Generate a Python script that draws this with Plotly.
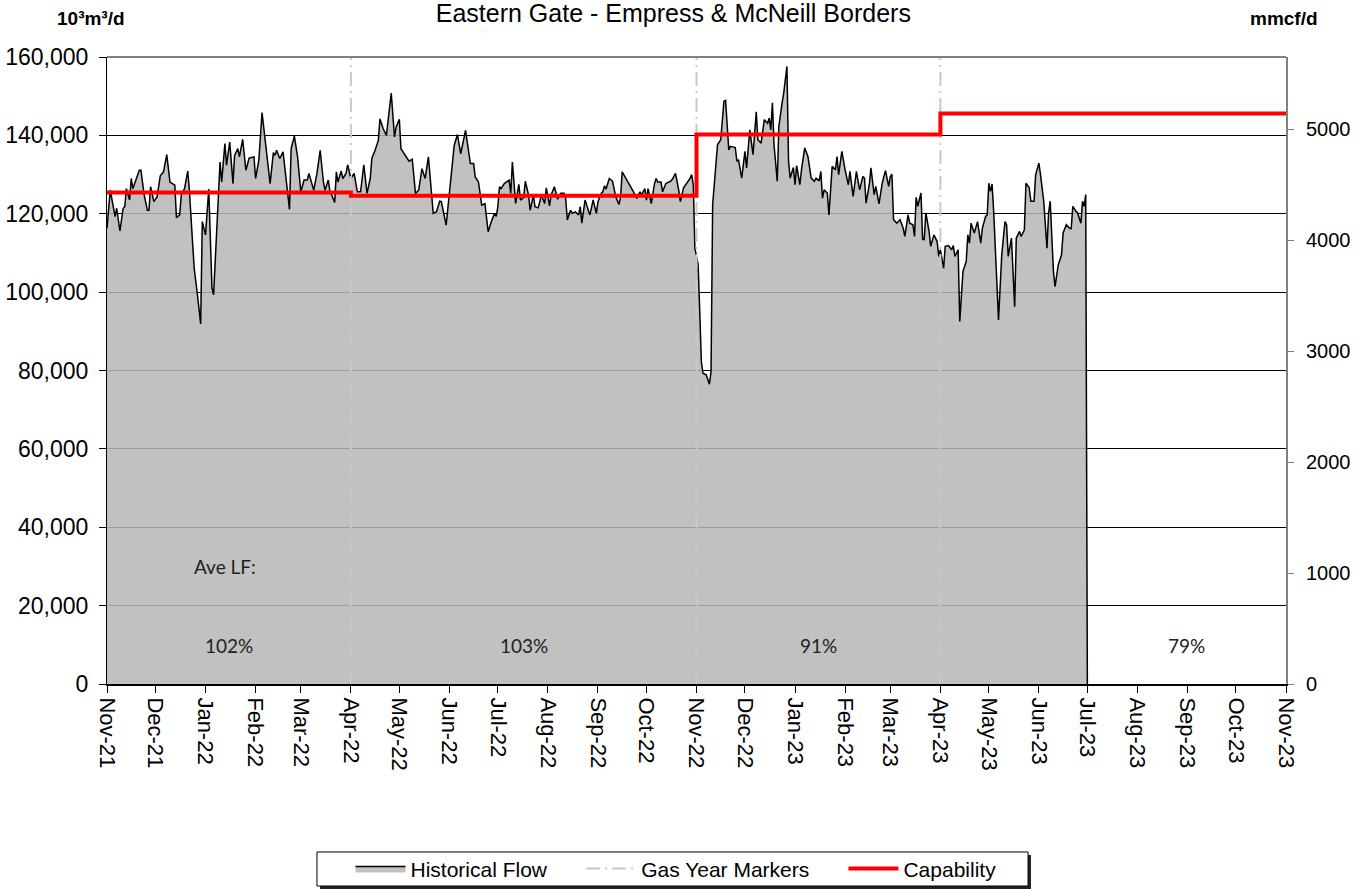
import plotly.graph_objects as go
import pandas as pd

# daily flow, 10^3 m3/d
flow_dates = [
    '2021-11-01', '2021-11-03', '2021-11-06', '2021-11-07', '2021-11-09', '2021-11-11', '2021-11-12', '2021-11-13',
    '2021-11-15', '2021-11-16', '2021-11-17', '2021-11-19', '2021-11-21', '2021-11-22', '2021-11-24', '2021-11-26',
    '2021-11-27', '2021-11-28', '2021-11-30',
    '2021-12-02', '2021-12-04', '2021-12-06', '2021-12-08', '2021-12-10', '2021-12-13', '2021-12-14', '2021-12-16',
    '2021-12-17', '2021-12-19', '2021-12-21', '2021-12-22', '2021-12-24', '2021-12-25', '2021-12-27', '2021-12-29',
    '2021-12-30',
    '2022-01-01', '2022-01-03', '2022-01-05', '2022-01-06', '2022-01-08', '2022-01-10', '2022-01-11', '2022-01-13',
    '2022-01-14', '2022-01-16', '2022-01-18', '2022-01-19', '2022-01-21', '2022-01-22', '2022-01-24', '2022-01-26',
    '2022-01-28', '2022-01-31',
    '2022-02-01', '2022-02-03', '2022-02-05', '2022-02-07', '2022-02-10', '2022-02-12', '2022-02-13', '2022-02-14',
    '2022-02-16', '2022-02-18', '2022-02-20', '2022-02-22', '2022-02-23', '2022-02-25', '2022-02-27',
    '2022-03-01', '2022-03-03', '2022-03-05', '2022-03-06', '2022-03-09', '2022-03-11', '2022-03-13', '2022-03-15',
    '2022-03-16', '2022-03-18', '2022-03-19', '2022-03-22', '2022-03-23', '2022-03-24', '2022-03-26', '2022-03-27',
    '2022-03-29', '2022-03-30',
    '2022-04-01', '2022-04-03', '2022-04-05', '2022-04-07', '2022-04-09', '2022-04-11', '2022-04-13', '2022-04-14',
    '2022-04-16', '2022-04-18', '2022-04-19', '2022-04-21', '2022-04-23', '2022-04-26', '2022-04-28', '2022-04-29',
    '2022-05-01', '2022-05-02', '2022-05-04', '2022-05-07', '2022-05-09', '2022-05-11', '2022-05-13', '2022-05-15',
    '2022-05-17', '2022-05-19', '2022-05-22', '2022-05-24', '2022-05-26', '2022-05-27', '2022-05-30',
    '2022-06-01', '2022-06-02', '2022-06-04', '2022-06-06', '2022-06-08', '2022-06-11', '2022-06-13', '2022-06-14',
    '2022-06-16', '2022-06-17', '2022-06-19', '2022-06-21', '2022-06-23', '2022-06-25', '2022-06-27', '2022-06-29',
    '2022-06-30',
    '2022-07-01', '2022-07-02', '2022-07-03', '2022-07-05', '2022-07-08', '2022-07-09', '2022-07-10', '2022-07-12',
    '2022-07-14', '2022-07-15', '2022-07-17', '2022-07-18', '2022-07-20', '2022-07-21', '2022-07-23', '2022-07-24',
    '2022-07-26', '2022-07-28', '2022-07-30', '2022-07-31',
    '2022-08-02', '2022-08-03', '2022-08-05', '2022-08-07', '2022-08-09', '2022-08-11', '2022-08-12', '2022-08-13',
    '2022-08-15', '2022-08-16', '2022-08-18', '2022-08-20', '2022-08-21', '2022-08-22', '2022-08-24', '2022-08-26',
    '2022-08-27', '2022-08-29', '2022-08-31',
    '2022-09-01', '2022-09-03', '2022-09-04', '2022-09-05', '2022-09-06', '2022-09-08', '2022-09-10', '2022-09-11',
    '2022-09-12', '2022-09-14', '2022-09-15', '2022-09-16', '2022-09-19', '2022-09-21', '2022-09-23', '2022-09-25',
    '2022-09-27', '2022-09-28', '2022-09-30',
    '2022-10-01', '2022-10-02', '2022-10-04', '2022-10-06', '2022-10-07', '2022-10-08', '2022-10-10', '2022-10-11',
    '2022-10-13', '2022-10-16', '2022-10-17', '2022-10-19', '2022-10-21', '2022-10-22', '2022-10-24', '2022-10-26',
    '2022-10-28', '2022-10-29', '2022-10-30', '2022-10-31',
    '2022-11-02', '2022-11-03', '2022-11-04', '2022-11-05', '2022-11-07', '2022-11-09', '2022-11-10', '2022-11-11',
    '2022-11-13', '2022-11-14', '2022-11-16', '2022-11-18', '2022-11-19', '2022-11-21', '2022-11-22', '2022-11-25',
    '2022-11-26', '2022-11-27', '2022-11-29',
    '2022-12-01', '2022-12-02', '2022-12-04', '2022-12-06', '2022-12-08', '2022-12-09', '2022-12-11', '2022-12-13',
    '2022-12-15', '2022-12-16', '2022-12-17', '2022-12-18', '2022-12-19', '2022-12-21', '2022-12-22', '2022-12-24',
    '2022-12-25', '2022-12-27', '2022-12-28', '2022-12-29', '2022-12-31',
    '2023-01-01', '2023-01-02', '2023-01-04', '2023-01-05', '2023-01-07', '2023-01-09', '2023-01-11', '2023-01-13',
    '2023-01-14', '2023-01-16', '2023-01-17', '2023-01-18', '2023-01-19', '2023-01-21', '2023-01-22', '2023-01-24',
    '2023-01-26', '2023-01-27', '2023-01-28', '2023-01-30',
    '2023-02-01', '2023-02-03', '2023-02-04', '2023-02-06', '2023-02-08', '2023-02-10', '2023-02-12', '2023-02-13',
    '2023-02-14', '2023-02-16', '2023-02-17', '2023-02-19', '2023-02-20', '2023-02-22', '2023-02-24', '2023-02-26',
    '2023-02-28',
    '2023-03-01', '2023-03-02', '2023-03-03', '2023-03-05', '2023-03-07', '2023-03-09', '2023-03-10', '2023-03-12',
    '2023-03-13', '2023-03-15', '2023-03-16', '2023-03-17', '2023-03-18', '2023-03-20', '2023-03-21', '2023-03-22',
    '2023-03-23', '2023-03-25', '2023-03-26', '2023-03-28', '2023-03-30', '2023-03-31',
    '2023-04-01', '2023-04-03', '2023-04-04', '2023-04-06', '2023-04-08', '2023-04-09', '2023-04-10', '2023-04-12',
    '2023-04-13', '2023-04-15', '2023-04-17', '2023-04-18', '2023-04-19', '2023-04-20', '2023-04-22', '2023-04-24',
    '2023-04-26', '2023-04-27', '2023-04-29', '2023-04-30',
    '2023-05-01', '2023-05-02', '2023-05-03', '2023-05-04', '2023-05-06', '2023-05-07', '2023-05-09', '2023-05-11',
    '2023-05-12', '2023-05-13', '2023-05-15', '2023-05-17', '2023-05-18', '2023-05-20', '2023-05-21', '2023-05-23',
    '2023-05-24', '2023-05-26', '2023-05-27', '2023-05-29', '2023-05-30',
    '2023-06-01', '2023-06-02', '2023-06-04', '2023-06-06', '2023-06-07', '2023-06-08', '2023-06-09', '2023-06-10',
    '2023-06-11', '2023-06-13', '2023-06-15', '2023-06-16', '2023-06-18', '2023-06-20', '2023-06-21', '2023-06-22',
    '2023-06-24', '2023-06-25', '2023-06-27', '2023-06-28', '2023-06-29', '2023-06-30',
    '2023-07-01',
]

flow_values = [
    116300, 126000, 119300, 121400, 115600, 121400, 121800, 126400,
    123500, 129000, 126400, 129000, 131100, 131100, 124800, 120900,
    120900, 126900, 123100,
    124300, 129700, 130700, 135100, 128100, 127300, 119000, 119700,
    124800, 126400, 130900, 126000, 112500, 106100, 99300, 91900,
    118000,
    114600, 126300, 101000, 99300, 118000, 133200, 128100, 137900,
    132400, 138300, 127700, 134900, 136600, 134500, 139000, 131100,
    134200, 134500,
    129000, 133600, 145800, 138300, 127700, 135600, 134900, 136200,
    134100, 135800, 129000, 121100, 136600, 139800, 134500,
    125600, 128600, 128600, 130300, 126000, 130300, 136200, 128100,
    126000, 128600, 125800, 122900, 130700, 128100, 130900, 129000,
    130300, 132500,
    129000, 130300, 125600, 125600, 132500, 125200, 129000, 134200,
    136200, 138700, 144200, 141700, 140000, 150800, 139600, 142100,
    144100, 136600, 135300, 133400, 133900, 125200, 126000, 131500,
    129000, 134500, 120100, 120500, 123200, 123100, 117100,
    125600, 128100, 137500, 140200, 135300, 141300, 135300, 132800,
    132800, 129400, 128100, 122200, 122600, 115400, 118000, 120100,
    119300,
    121800, 126900, 126400, 127700, 128600, 125200, 133200, 122600,
    127500, 123500, 124100, 128300, 124800, 120900, 124800, 121800,
    121500, 124800, 122600, 126600,
    122000, 124800, 126900, 123700, 125200, 125200, 123900, 118400,
    120900, 120100, 120500, 119700, 121800, 117600, 123500, 120900,
    119700, 123500, 120100,
    123100, 125200, 125600, 127100, 126300, 129000, 128300, 126000,
    124300, 122400, 124300, 130700, 128600, 127300, 125600, 123900,
    125600, 124800, 126400,
    123500, 126400, 122600, 127700, 129000, 128100, 128100, 125600,
    127700, 128300, 128800, 130300, 126000, 123100, 126600, 127700,
    129000, 130000, 127400, 111200,
    107000, 95100, 82300, 79300, 78900, 76500, 79700, 122300,
    131700, 137600, 138900, 148700, 148900, 136300, 137200, 136900,
    133400, 133800, 129100,
    135900, 131700, 141400, 135100, 146000, 138900, 138000, 144000,
    143100, 144400, 141400, 148300, 137600, 128300, 142300, 148300,
    150800, 157600, 133400, 129100, 131800,
    127400, 132300, 127400, 131200, 136800, 134600, 129100, 128300,
    129100, 128400, 130800, 124000, 126100, 125300, 119700, 132100,
    131200, 134600, 130000, 135900,
    131200, 127400, 130800, 124400, 130800, 126100, 129500, 129100,
    122700, 127400, 131700, 124900, 127000, 122500, 127800, 131000,
    127000,
    129500, 130100, 118500, 117600, 118500, 116300, 114200, 119700,
    117600, 117200, 114200, 124200, 121900, 125300, 113400, 113400,
    120200, 115500, 111700, 114600, 112900, 109100,
    110800, 106100, 111700, 111900, 110800, 111900, 109100, 110800,
    92500, 105300, 107800, 114600, 112500, 117600, 115100, 118000,
    112500, 116300, 119300, 119700,
    127800, 125700, 127600, 120600, 100200, 92900, 109500, 118000,
    117200, 109100, 113800, 96300, 113800, 115500, 114200, 115900,
    127800, 126600, 123200, 123200, 130000,
    132900, 130000, 123200, 111200, 120200, 123200, 113800, 105300,
    101400, 107000, 109500, 115100, 117200, 116300, 116200, 121900,
    120600, 120200, 117600, 123200, 121900, 124900,
    0,
]

# capability steps, 10^3 m3/d
cap_dates = ['2021-11-01', '2022-04-01', '2022-11-01', '2023-04-01', '2023-11-01']
cap_values = [125400, 124600, 140200, 145600, 145600]

gas_year_dates = ['2022-04-01', '2022-11-01', '2023-04-01']

month_labels = [
    'Nov-21', 'Dec-21', 'Jan-22', 'Feb-22', 'Mar-22', 'Apr-22', 'May-22', 'Jun-22', 'Jul-22',
    'Aug-22', 'Sep-22', 'Oct-22', 'Nov-22', 'Dec-22', 'Jan-23', 'Feb-23', 'Mar-23', 'Apr-23',
    'May-23', 'Jun-23', 'Jul-23', 'Aug-23', 'Sep-23', 'Oct-23', 'Nov-23',
]

lf_labels = ['102%', '103%', '91%', '79%']
lf_periods = [
    ('2021-11-01', '2022-04-01'),
    ('2022-04-01', '2022-11-01'),
    ('2022-11-01', '2023-04-01'),
    ('2023-07-01', '2023-11-01'),
]

E3M3_TO_MMCF = 0.0353147
Y_MAX = 160000
PAD = '\u00a0' * 5  # extra room between legend entries

month_ticks = pd.date_range('2021-11-01', '2023-11-01', freq='MS')

fig = go.Figure()

fig.add_trace(go.Scatter(
    x=flow_dates,
    y=flow_values,
    name='Historical Flow' + PAD,
    mode='lines',
    fill='tozeroy',
    fillcolor='rgba(182,182,182,0.85)',
    line=dict(color='black', width=1.5),
))

# gas year markers as one broken line so it gets a legend entry
gx, gy = [], []
for d in gas_year_dates:
    gx += [d, d, None]
    gy += [0, Y_MAX, None]

fig.add_trace(go.Scatter(
    x=gx,
    y=gy,
    name='Gas Year Markers' + PAD,
    mode='lines',
    line=dict(color='#c8c8c8', width=2, dash='14px,5px,2px,5px'),
))

fig.add_trace(go.Scatter(
    x=cap_dates,
    y=cap_values,
    name='Capability',
    mode='lines',
    line=dict(color='#ff0000', width=4, shape='hv'),
))

# invisible trace to carry the mmcf/d axis
fig.add_trace(go.Scatter(
    x=[cap_dates[0]],
    y=[0],
    yaxis='y2',
    mode='markers',
    marker=dict(opacity=0),
    showlegend=False,
    hoverinfo='skip',
))

for label, (start, end) in zip(lf_labels, lf_periods):
    mid = pd.Timestamp(start) + (pd.Timestamp(end) - pd.Timestamp(start)) / 2
    fig.add_annotation(
        x=mid, y=0.062, xref='x', yref='paper', xanchor='center', yanchor='middle',
        text=label, showarrow=False,
        font=dict(family='Lato', size=19, color='#222'),
    )

fig.add_annotation(
    x=0.10, y=0.188, xref='paper', yref='paper', xanchor='center', yanchor='middle',
    text='Ave LF:', showarrow=False,
    font=dict(family='Lato', size=19, color='#222'),
)

fig.add_annotation(
    x=-0.044, y=1.062, xref='paper', yref='paper', xanchor='left', yanchor='middle',
    text='<b>10³m³/d</b>', showarrow=False,
    font=dict(family='Liberation Sans', size=19, color='black'),
)

fig.add_annotation(
    x=0.998, y=1.062, xref='paper', yref='paper', xanchor='center', yanchor='middle',
    text='<b>mmcf/d</b>', showarrow=False,
    font=dict(family='Liberation Sans', size=19, color='black'),
)

# grey top border
fig.add_shape(
    type='line', xref='paper', yref='paper',
    x0=0, x1=1, y0=1, y1=1,
    line=dict(color='#808080', width=2),
)

# legend frame with a drop shadow
fig.add_shape(
    type='rect', xref='paper', yref='paper',
    x0=0.1807, x1=0.7837, y0=-0.3270, y1=-0.2727,
    fillcolor='#222', line=dict(width=0),
)
fig.add_shape(
    type='rect', xref='paper', yref='paper',
    x0=0.1781, x1=0.7812, y0=-0.3222, y1=-0.2679,
    fillcolor='white', line=dict(color='black', width=1),
)

fig.update_layout(
    width=1363,
    height=889,
    margin=dict(l=107, r=77, t=57, b=205, autoexpand=False),
    paper_bgcolor='white',
    plot_bgcolor='white',
    title=dict(
        text='Eastern Gate - Empress & McNeill Borders',
        x=0.494, xanchor='center', y=0.985, yanchor='middle',
        font=dict(family='Liberation Sans', size=25, color='black'),
    ),
    font=dict(family='Liberation Sans', color='black'),
    xaxis=dict(
        type='date',
        range=['2021-11-01', '2023-11-01'],
        tickvals=month_ticks,
        ticktext=month_labels,
        tickangle=90,
        tickfont=dict(size=22),
        ticks='outside',
        ticklen=7,
        tickcolor='black',
        showline=True,
        linecolor='black',
        linewidth=2,
        showgrid=False,
        zeroline=False,
    ),
    yaxis=dict(
        range=[0, Y_MAX],
        dtick=20000,
        tickformat=',',
        tickfont=dict(size=23),
        ticks='outside',
        ticklen=7,
        tickcolor='black',
        ticklabelstandoff=6,
        showline=True,
        linecolor='black',
        linewidth=1,
        showgrid=True,
        gridcolor='black',
        gridwidth=1,
        zeroline=False,
    ),
    yaxis2=dict(
        overlaying='y',
        side='right',
        range=[0, Y_MAX * E3M3_TO_MMCF],
        dtick=1000,
        tickfont=dict(size=20),
        ticks='outside',
        ticklen=6,
        tickcolor='#808080',
        ticklabelstandoff=8,
        showline=True,
        linecolor='#808080',
        linewidth=2,
        showgrid=False,
        zeroline=False,
    ),
    legend=dict(
        orientation='h',
        x=0.4826, xanchor='center',
        y=-0.295, yanchor='middle',
        borderwidth=0,
        bgcolor='rgba(0,0,0,0)',
        itemwidth=50,
        font=dict(size=21),
    ),
)

# drop the default page margin so the figure sits at the window corner
fig.write_html(
    "out.html",
    config={'displayModeBar': False},
    post_script="document.body.style.margin = '0px';",
)
